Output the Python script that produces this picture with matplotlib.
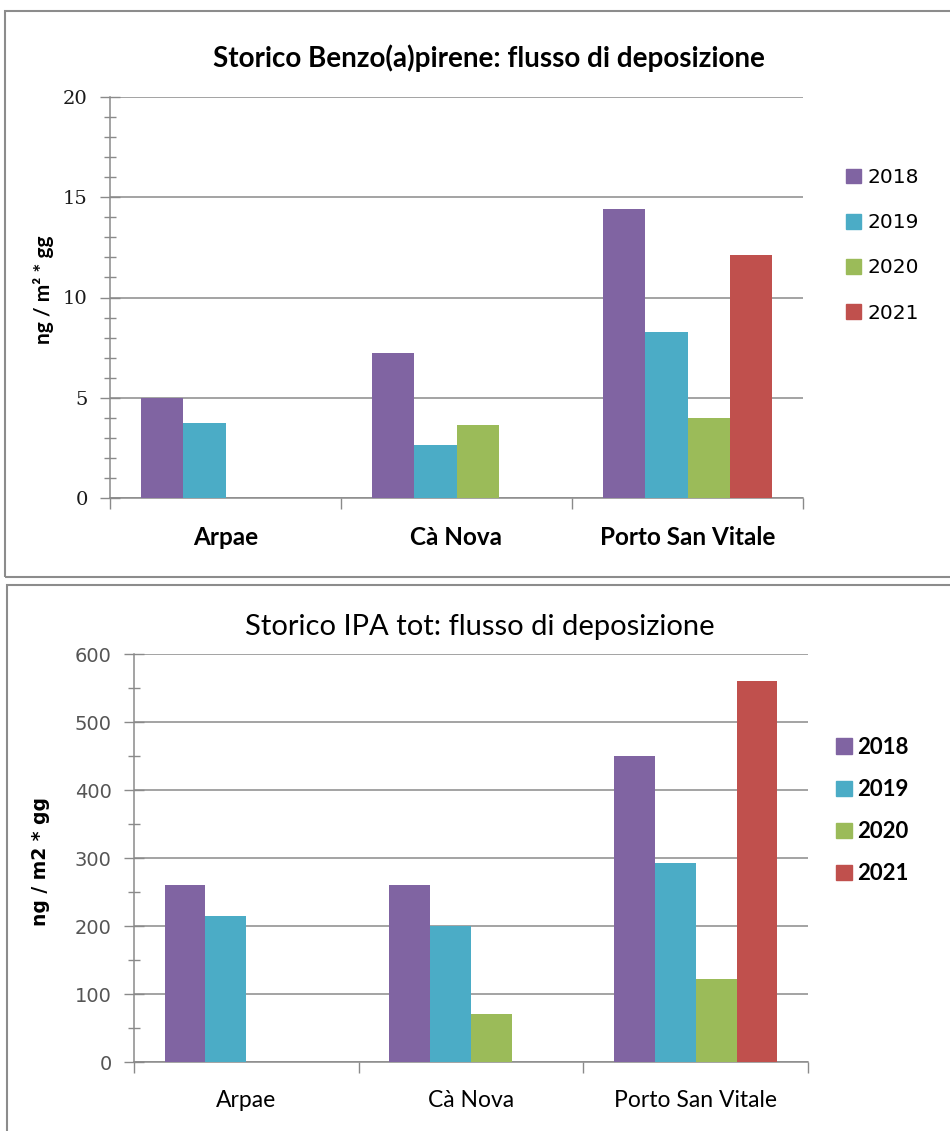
import numpy as np
import matplotlib
matplotlib.use('Agg')
import matplotlib.pyplot as plt
from matplotlib.patches import Rectangle, Patch
from matplotlib.ticker import MultipleLocator, FixedLocator, NullFormatter

# Data
stations = ['Arpae', 'Cà Nova', 'Porto San Vitale']
years = ['2018', '2019', '2020', '2021']
colors = ['#8064A2', '#4BACC6', '#9BBB59', '#C0504D']

# Benzo(a)pirene, ng/m2*gg  (nan = no bar)
bap_2018 = [5.0, 7.25, 14.4]
bap_2019 = [3.75, 2.65, 8.3]
bap_2020 = [np.nan, 3.65, 4.0]
bap_2021 = [np.nan, np.nan, 12.1]

# IPA totali, ng/m2*gg
ipa_2018 = [260, 260, 450]
ipa_2019 = [214, 200, 292]
ipa_2020 = [np.nan, 70, 122]
ipa_2021 = [np.nan, np.nan, 561]

W, H = 950, 1131
fig = plt.figure(figsize=(W / 100, H / 100), dpi=100)


def fx(px):
    return px / W


def fy(py):
    return 1 - py / H


# Grey frames of the two pasted charts
for x0, y0, y1 in [(5, 11, 577), (7, 585, 1145)]:
    fig.patches.append(Rectangle((fx(x0), fy(y1)), fx(1000 - x0), fy(y0) - fy(y1),
                                 transform=fig.transFigure, fill=False,
                                 edgecolor='#8c8c8c', lw=1.5, zorder=0))


def draw_chart(ax, series, ymax, major, minor, bold_labels, label_size,
               tick_font, tick_color):
    x = np.arange(len(stations))
    w = 0.182
    for i, vals in enumerate(series):
        ax.bar(x + (i - 1.5) * w, vals, width=w, color=colors[i], zorder=3)
    ax.set_xlim(-0.5, len(stations) - 0.5)
    ax.set_ylim(0, ymax)

    ax.yaxis.set_major_locator(MultipleLocator(major))
    ax.yaxis.set_minor_locator(MultipleLocator(minor))
    ax.grid(axis='y', which='major', color='#8a8a8a', lw=1.1, zorder=1)
    ax.tick_params(axis='y', which='both', direction='inout', length=9,
                   color='#8a8a8a', width=1, pad=9)
    ax.tick_params(axis='y', which='major', length=14)
    for lab in ax.get_yticklabels():
        lab.set_fontfamily(tick_font)
        lab.set_fontsize(14)
        lab.set_color(tick_color)

    # category boundaries as ticks, names in between
    ax.xaxis.set_major_locator(FixedLocator(np.arange(-0.5, len(stations), 1.0)))
    ax.xaxis.set_major_formatter(NullFormatter())
    ax.set_xticks(x, stations, minor=True)
    ax.tick_params(axis='x', which='major', direction='out', length=8,
                   color='#8a8a8a', width=1)
    ax.tick_params(axis='x', which='minor', length=0, pad=20)
    for lab in ax.get_xticklabels(minor=True):
        lab.set_fontfamily('Lato')
        lab.set_fontsize(label_size)
        lab.set_fontweight('bold' if bold_labels else 'normal')

    for s in ['top', 'right']:
        ax.spines[s].set_visible(False)
    for s in ['left', 'bottom']:
        ax.spines[s].set_color('#8a8a8a')
        ax.spines[s].set_linewidth(1.1)


handles = [Patch(color=c, label=y) for c, y in zip(colors, years)]

# Top chart
ax1 = fig.add_axes([fx(110), fy(498), fx(803) - fx(110), fy(97) - fy(498)])
draw_chart(ax1, [bap_2018, bap_2019, bap_2020, bap_2021], 20, 5, 1,
           True, 17.5, 'DejaVu Serif', '#1a1a1a')
fig.text(fx(489), fy(58), 'Storico Benzo(a)pirene: flusso di deposizione',
         ha='center', va='center', fontsize=20, fontweight='bold', family='Lato')
fig.text(fx(44), fy(290), 'ng / m² * gg', rotation=90, ha='center', va='center',
         fontsize=15, fontweight='bold', family='Lato')
fig.legend(handles=handles, loc='upper left', bbox_to_anchor=(fx(846), fy(168)),
           frameon=False, prop={'family': 'DejaVu Sans', 'size': 14.5},
           handlelength=0.75, handleheight=0.75, handletextpad=0.3,
           labelspacing=1.3, borderpad=0, borderaxespad=0)

# Bottom chart
ax2 = fig.add_axes([fx(134), fy(1062), fx(808) - fx(134), fy(654) - fy(1062)])
draw_chart(ax2, [ipa_2018, ipa_2019, ipa_2020, ipa_2021], 600, 100, 50,
           False, 16.5, 'DejaVu Sans', '#555555')
fig.text(fx(480), fy(627), 'Storico IPA tot: flusso di deposizione',
         ha='center', va='center', fontsize=21, family='Lato')
fig.text(fx(40), fy(862), 'ng / m2 * gg', rotation=90, ha='center', va='center',
         fontsize=13.5, fontweight='bold', family='DejaVu Sans')
fig.legend(handles=handles, loc='upper left', bbox_to_anchor=(fx(836), fy(737)),
           frameon=False, prop={'family': 'Lato', 'size': 16, 'weight': 'bold'},
           handlelength=0.7, handleheight=0.7, handletextpad=0.25,
           labelspacing=0.95, borderpad=0, borderaxespad=0)

fig.savefig('out.png', dpi=100, facecolor='white')
